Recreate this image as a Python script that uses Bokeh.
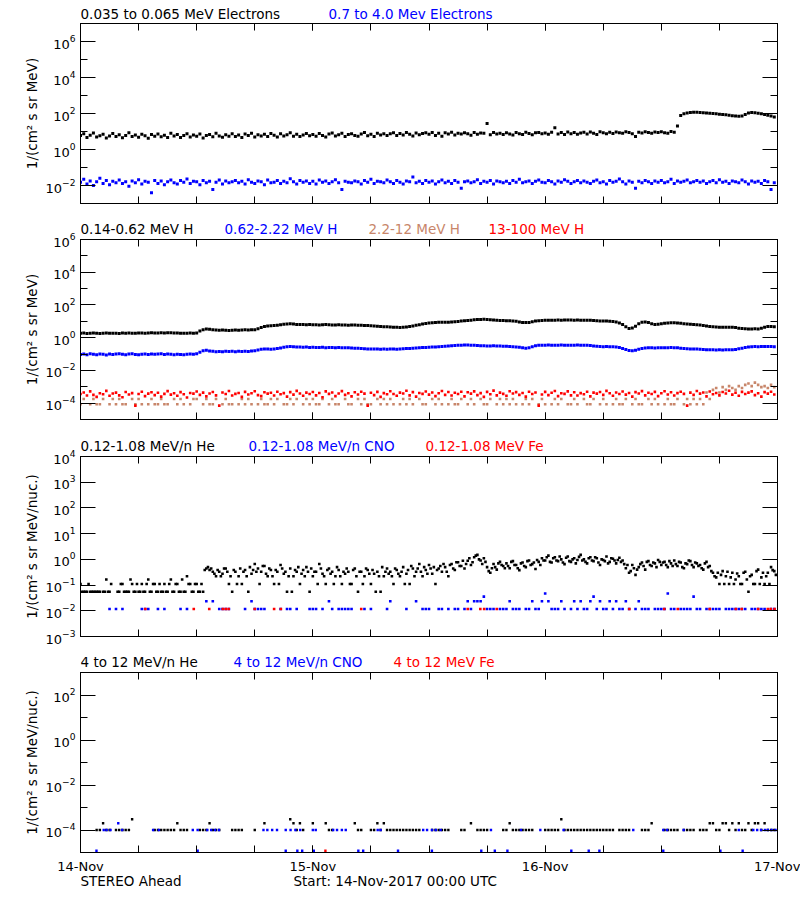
import numpy as np
import pandas as pd
from bokeh.plotting import figure
from bokeh.layouts import column
from bokeh.models import (Range1d, LogAxis, DatetimeAxis, FixedTicker,
                          DatetimeTickFormatter, CustomJSTickFormatter, ColumnDataSource)
from bokeh.core.properties import value
from bokeh.embed import file_html
from bokeh.resources import INLINE

NA = np.nan
START = pd.Timestamp("2017-11-14 00:00")
END = pd.Timestamp("2017-11-17 00:00")
CADENCE_MIN = 20

# ---------------- Panel 1: electrons (1/(cm2 s sr MeV)), 20-min samples ----------------
e_035_065 = [
    5.9, 7.4, 4.6, 6.1, 8.2, 5.0, 5.8, 7.0, 4.3, 5.7, 7.8, 5.2,
    6.6, 4.5, 5.9, 8.4, 5.3, 6.3, 4.8, 7.1, 5.8, 4.2, 6.8, 5.5,
    7.2, 5.1, 6.2, 4.6, 8.0, 5.6, 6.9, 4.7, 5.9, 7.6, 5.0, 6.4,
    5.4, 7.3, 4.4, 6.0, 6.8, 5.1, 7.9, 5.7, 4.8, 6.6, 5.5, 7.5,
    5.3, 6.4, 4.7, 7.2, 5.9, 8.1, 5.0, 6.7, 5.6, 7.0, 5.2, 7.7,
    6.1, 4.9, 7.4, 5.7, 6.6, 8.6, 5.5, 7.1, 5.2, 6.4, 7.8, 5.8,
    6.9, 5.4, 7.7, 6.0, 5.0, 7.2, 8.3, 5.6, 6.5, 7.9, 5.3, 6.8,
    7.6, 5.9, 5.4, 7.3, 8.7, 5.8, 7.0, 5.2, 8.1, 6.4, 7.5, 5.9,
    7.4, 8.5, 5.9, 7.8, 6.3, 8.9, 7.0, 5.6, 8.2, 6.6, 7.7, 8.6,
    7.1, 8.8, 6.0, 7.9, 5.4, 8.4, 7.3, 9.0, 6.4, 8.0, 7.2, 8.6,
    7.6, 6.2, 8.7, 7.0, 8.3, 7.9, 28.0, 6.5, 8.9, 7.3, 8.1, 6.8,
    8.4, 7.2, 6.4, 8.9, 7.5, 6.9, 9.2, 7.8, 6.6, 8.6, 8.8, 7.4,
    8.2, 7.0, 9.1, 16.0, 7.3, 8.7, 6.8, 9.3, 7.6, 8.9, 7.1, 8.3,
    9.0, 7.2, 9.4, 8.1, 6.9, 9.6, 8.4, 7.4, 9.1, 7.8, 9.5, 8.6,
    8.0, 9.7, 8.8, 7.5, 5.2, 9.2, 8.3, 9.8, 8.7, 7.9, 9.4, 8.9,
    9.8, 8.6, 8.0, 10.0, 9.1, 20.0, 78, 96, 108, 115, 118, 116,
    112, 110, 107, 104, 100, 96, 92, 88, 84, 80, 76, 72,
    70, 72, 88, 108, 115, 110, 104, 96, 88, 80, 72, 64,
]
e_07_40 = [
    .015, .022, .012, .018, .010, .016, .025, .013, .019, .011, .017, .014,
    .020, .013, .016, .009, .018, .014, .021, .012, .017, .015, .004, .019,
    .013, .018, .011, .016, .020, .014, .012, .019, .015, .023, .013, .017,
    .016, .011, .019, .014, .017, .006, .015, .020, .012, .018, .014, .016,
    .019, .014, .017, .012, .021, .015, .013, .018, .016, .011, .020, .014,
    .015, .019, .013, .017, .014, .024, .016, .012, .019, .015, .018, .013,
    .017, .012, .020, .015, .018, .013, .016, .021, .014, .006, .017, .015,
    .014, .018, .016, .012, .019, .015, .022, .013, .017, .016, .014, .020,
    .016, .013, .019, .015, .012, .018, .016, .030, .014, .017, .013, .019,
    .015, .018, .012, .016, .020, .014, .017, .013, .019, .015, .007, .016,
    .018, .014, .016, .021, .013, .017, .015, .019, .012, .018, .016, .014,
    .017, .013, .019, .015, .022, .014, .016, .018, .013, .017, .020, .015,
    .014, .019, .016, .012, .018, .015, .021, .017, .013, .016, .019, .014,
    .018, .015, .013, .017, .020, .014, .016, .012, .019, .015, .017, .023,
    .016, .012, .018, .015, .007, .017, .014, .019, .016, .013, .018, .015,
    .019, .014, .016, .022, .013, .018, .015, .017, .020, .014, .016, .019,
    .015, .018, .013, .016, .019, .014, .021, .015, .017, .013, .018, .016,
    .014, .020, .016, .012, .018, .015, .017, .013, .019, .016, .006, .014,
]

# ---------------- Panel 2: protons (1/(cm2 s sr MeV)), 20-min samples ----------------
h_014_062 = [
    1.85, 1.90, 1.82, 1.88, 1.92, 1.86, 1.80, 1.87, 1.91, 1.84, 1.89, 1.86,
    1.83, 1.90, 1.88, 1.94, 1.87, 1.85, 1.92, 1.96, 1.89, 1.93, 1.98, 1.91,
    1.95, 2.00, 1.93, 1.97, 2.02, 1.96, 1.90, 1.86, 1.84, 1.88, 1.92, 1.87,
    1.9, 2.6, 3.1, 3.4, 3.3, 3.1, 2.9, 2.8, 2.9, 2.8, 2.7, 2.8,
    2.9, 2.8, 2.9, 3.0, 2.9, 3.0, 3.1, 3.5, 4.2, 4.8, 5.2, 5.4,
    5.5, 5.8, 6.2, 6.6, 6.9, 7.0, 6.8, 6.5, 6.3, 6.4, 6.2, 6.3,
    6.1, 6.2, 6.0, 6.1, 6.3, 6.1, 5.9, 6.0, 6.1, 5.9, 6.0, 5.8,
    5.9, 6.0, 5.8, 5.7, 5.6, 5.5, 5.4, 5.2, 5.0, 4.9, 4.7, 4.6,
    4.5, 4.4, 4.3, 4.2, 4.3, 4.5, 4.8, 5.2, 5.7, 6.2, 6.8, 7.3,
    7.8, 8.2, 8.5, 8.7, 8.8, 8.7, 8.9, 9.2, 9.5, 9.8, 10.3, 10.8,
    11.3, 11.8, 12.3, 12.8, 13.1, 13.3, 12.8, 12.3, 12.0, 11.6, 11.3, 11.1,
    11.0, 10.8, 10.6, 10.0, 9.2, 8.6, 8.4, 8.6, 9.4, 10.3, 11.0, 11.4,
    11.6, 11.7, 11.8, 11.8, 11.9, 11.8, 11.9, 12.0, 11.9, 11.8, 11.9, 11.8,
    11.8, 11.7, 11.6, 11.4, 11.0, 10.6, 10.4, 10.5, 10.2, 9.8, 9.0, 7.8,
    6.5, 4.6, 3.7, 3.9, 5.0, 7.2, 8.8, 9.2, 8.4, 7.2, 6.5, 6.6,
    7.0, 7.6, 8.0, 8.3, 8.2, 7.9, 7.5, 7.1, 6.8, 6.6, 6.4, 6.2,
    6.0, 5.6, 5.2, 4.8, 4.6, 4.5, 4.4, 4.4, 4.4, 4.3, 4.3, 4.2,
    3.8, 3.6, 3.5, 3.4, 3.4, 3.5, 3.4, 3.8, 4.4, 4.9, 4.8, 4.6,
]
h_062_222 = [
    0.095, 0.100, 0.092, 0.105, 0.098, 0.090, 0.102, 0.096, 0.088, 0.100, 0.094, 0.099,
    0.103, 0.097, 0.091, 0.099, 0.106, 0.095, 0.089, 0.098, 0.102, 0.093, 0.100, 0.096,
    0.099, 0.104, 0.095, 0.101, 0.097, 0.092, 0.098, 0.094, 0.090, 0.096, 0.100, 0.097,
    0.105, 0.130, 0.160, 0.170, 0.155, 0.148, 0.140, 0.145, 0.138, 0.150, 0.142, 0.146,
    0.140, 0.148, 0.143, 0.150, 0.145, 0.152, 0.158, 0.175, 0.195, 0.205, 0.200, 0.198,
    0.205, 0.215, 0.235, 0.26, 0.28, 0.285, 0.275, 0.265, 0.27, 0.26, 0.265, 0.255,
    0.26, 0.25, 0.255, 0.26, 0.245, 0.25, 0.255, 0.245, 0.25, 0.24, 0.245, 0.24,
    0.235, 0.23, 0.225, 0.22, 0.21, 0.205, 0.20, 0.205, 0.20, 0.195, 0.20, 0.198,
    0.20, 0.205, 0.198, 0.20, 0.21, 0.215, 0.22, 0.23, 0.235, 0.245, 0.25, 0.255,
    0.26, 0.265, 0.27, 0.28, 0.29, 0.30, 0.31, 0.32, 0.33, 0.34, 0.35, 0.355,
    0.36, 0.35, 0.34, 0.33, 0.32, 0.325, 0.315, 0.31, 0.32, 0.315, 0.31, 0.30,
    0.30, 0.29, 0.28, 0.27, 0.26, 0.24, 0.23, 0.245, 0.28, 0.32, 0.34, 0.35,
    0.35, 0.355, 0.35, 0.345, 0.35, 0.355, 0.35, 0.345, 0.35, 0.35, 0.355, 0.345,
    0.35, 0.34, 0.33, 0.31, 0.30, 0.29, 0.28, 0.285, 0.28, 0.275, 0.27, 0.255,
    0.22, 0.19, 0.165, 0.16, 0.17, 0.195, 0.22, 0.235, 0.24, 0.24, 0.235, 0.24,
    0.245, 0.24, 0.245, 0.25, 0.245, 0.24, 0.23, 0.22, 0.21, 0.205, 0.20, 0.20,
    0.195, 0.19, 0.185, 0.18, 0.18, 0.175, 0.18, 0.175, 0.18, 0.185, 0.18, 0.19,
    0.21, 0.23, 0.25, 0.27, 0.28, 0.285, 0.28, 0.29, 0.285, 0.29, 0.285, 0.28,
]
h_22_12 = [
    8.5e-5, 1.8e-4, NA, 8.5e-5, 1.8e-4, 8.5e-5, 8.5e-5, 1.8e-4, NA, 8.5e-5, 1.8e-4, 8.5e-5,
    1.8e-4, 8.5e-5, 8.5e-5, NA, 1.8e-4, 8.5e-5, 1.8e-4, 8.5e-5, NA, 8.5e-5, 1.8e-4, 8.5e-5,
    8.5e-5, 1.8e-4, 8.5e-5, 8.5e-5, NA, 1.8e-4, 8.5e-5, 1.8e-4, 8.5e-5, NA, 8.5e-5, 1.8e-4,
    1.8e-4, NA, 8.5e-5, 1.8e-4, 8.5e-5, 8.5e-5, 1.8e-4, NA, 8.5e-5, 1.8e-4, 8.5e-5, 8.5e-5,
    NA, 8.5e-5, 1.8e-4, 8.5e-5, 1.8e-4, 8.5e-5, NA, 8.5e-5, 1.8e-4, 8.5e-5, 8.5e-5, 1.8e-4,
    8.5e-5, 1.8e-4, NA, 8.5e-5, 8.5e-5, 1.8e-4, 8.5e-5, 1.8e-4, NA, 8.5e-5, 1.8e-4, 8.5e-5,
    1.8e-4, 8.5e-5, 8.5e-5, 1.8e-4, NA, 8.5e-5, 1.8e-4, 8.5e-5, 8.5e-5, NA, 1.8e-4, 8.5e-5,
    8.5e-5, NA, 1.8e-4, 8.5e-5, 1.8e-4, 8.5e-5, 8.5e-5, NA, 1.8e-4, 8.5e-5, 1.8e-4, 8.5e-5,
    1.8e-4, 8.5e-5, NA, 8.5e-5, 1.8e-4, 8.5e-5, 1.8e-4, 8.5e-5, NA, 1.8e-4, 8.5e-5, 8.5e-5,
    NA, 1.8e-4, 8.5e-5, 1.8e-4, 8.5e-5, NA, 8.5e-5, 1.8e-4, 8.5e-5, 8.5e-5, 1.8e-4, NA,
    8.5e-5, 1.8e-4, 8.5e-5, NA, 1.8e-4, 8.5e-5, 8.5e-5, 1.8e-4, NA, 8.5e-5, 1.8e-4, 8.5e-5,
    1.8e-4, 8.5e-5, 1.8e-4, 8.5e-5, NA, 8.5e-5, 1.8e-4, 8.5e-5, 1.8e-4, NA, 8.5e-5, 1.8e-4,
    8.5e-5, NA, 8.5e-5, 1.8e-4, 8.5e-5, 1.8e-4, NA, 8.5e-5, 8.5e-5, 1.8e-4, 8.5e-5, NA,
    1.8e-4, 8.5e-5, 8.5e-5, 1.8e-4, NA, 8.5e-5, 1.8e-4, 8.5e-5, NA, 8.5e-5, 1.8e-4, 8.5e-5,
    8.5e-5, 1.8e-4, NA, 8.5e-5, 1.8e-4, 8.5e-5, 8.5e-5, NA, 1.8e-4, 8.5e-5, 1.8e-4, 8.5e-5,
    NA, 8.5e-5, 1.8e-4, 8.5e-5, 8.5e-5, 1.8e-4, NA, 8.5e-5, 1.8e-4, 8.5e-5, 1.8e-4, 8.5e-5,
    1.8e-4, 8.5e-5, 4.5e-4, 1.8e-4, 6.5e-4, 8.5e-4, 4.5e-4, 9.5e-4, 6.5e-4, 1.1e-3, 8.5e-4, 6.5e-4,
    1.1e-3, 8.5e-4, 1.3e-3, 1.6e-3, 1.1e-3, 1.8e-3, 1.3e-3, 9.5e-4, 1.1e-3, 8.5e-4, 1.3e-3, 9.5e-4,
]
h_13_100 = [
    3.6e-4, 4.5e-4, 2.9e-4, 5.2e-4, 3.2e-4, 2.4e-4, 4.0e-4, 3.5e-4, 5.6e-4, 2.8e-4, 3.9e-4, 4.4e-4,
    3.0e-4, 2.3e-4, 4.8e-4, 3.4e-4, 4.1e-4, 0.7e-4, 3.6e-4, 5.0e-4, 2.7e-4, 3.8e-4, 4.6e-4, 3.1e-4,
    4.3e-4, 2.5e-4, 3.7e-4, 5.4e-4, 3.3e-4, 4.0e-4, 2.8e-4, 4.7e-4, 3.5e-4, 2.2e-4, 4.2e-4, 3.8e-4,
    5.1e-4, 3.2e-4, 4.4e-4, 2.6e-4, 3.9e-4, 4.8e-4, 3.0e-4, 0.7e-4, 4.5e-4, 3.6e-4, 5.5e-4, 2.9e-4,
    3.7e-4, 4.2e-4, 2.4e-4, 4.9e-4, 3.4e-4, 4.0e-4, 5.3e-4, 3.1e-4, 2.7e-4, 4.6e-4, 3.8e-4, 4.3e-4,
    2.9e-4, 5.0e-4, 3.5e-4, 4.1e-4, 2.5e-4, 4.7e-4, 3.3e-4, 5.6e-4, 3.9e-4, 2.8e-4, 4.4e-4, 3.6e-4,
    4.8e-4, 3.0e-4, 4.2e-4, 2.3e-4, 5.2e-4, 3.7e-4, 4.5e-4, 2.7e-4, 3.9e-4, 5.4e-4, 3.2e-4, 4.0e-4,
    2.6e-4, 4.6e-4, 3.4e-4, 5.0e-4, 3.8e-4, 0.7e-4, 4.3e-4, 3.1e-4, 4.9e-4, 2.4e-4, 4.1e-4, 3.5e-4,
    5.3e-4, 3.6e-4, 2.8e-4, 4.4e-4, 3.9e-4, 5.7e-4, 3.0e-4, 4.7e-4, 2.5e-4, 4.2e-4, 3.7e-4, 5.1e-4,
    3.3e-4, 4.5e-4, 2.7e-4, 4.0e-4, 5.5e-4, 3.2e-4, 4.8e-4, 2.9e-4, 4.3e-4, 3.6e-4, 5.0e-4, 2.6e-4,
    4.6e-4, 3.8e-4, 5.2e-4, 3.1e-4, 4.1e-4, 2.4e-4, 4.9e-4, 3.5e-4, 5.8e-4, 3.0e-4, 4.4e-4, 3.7e-4,
    2.8e-4, 5.3e-4, 3.9e-4, 4.7e-4, 3.2e-4, 4.2e-4, 2.5e-4, 5.0e-4, 3.6e-4, 4.5e-4, 0.7e-4, 3.4e-4,
    4.9e-4, 3.1e-4, 4.3e-4, 5.5e-4, 2.7e-4, 4.0e-4, 3.7e-4, 5.2e-4, 3.0e-4, 4.6e-4, 2.9e-4, 4.1e-4,
    3.5e-4, 5.0e-4, 2.6e-4, 4.4e-4, 3.8e-4, 4.8e-4, 3.2e-4, 5.6e-4, 4.0e-4, 2.8e-4, 4.5e-4, 3.6e-4,
    5.1e-4, 3.3e-4, 4.2e-4, 2.5e-4, 4.7e-4, 3.9e-4, 5.4e-4, 3.0e-4, 4.3e-4, 3.6e-4, 4.9e-4, 2.7e-4,
    4.0e-4, 5.3e-4, 3.4e-4, 4.6e-4, 2.9e-4, 4.1e-4, 5.0e-4, 3.7e-4, 0.7e-4, 4.4e-4, 3.2e-4, 5.5e-4,
    3.8e-4, 4.5e-4, 2.6e-4, 5.1e-4, 3.5e-4, 4.2e-4, 3.0e-4, 4.8e-4, 3.9e-4, 5.7e-4, 3.3e-4, 4.3e-4,
    2.8e-4, 4.9e-4, 3.6e-4, 4.4e-4, 5.2e-4, 3.1e-4, 4.0e-4, 2.5e-4, 4.7e-4, 3.8e-4, 5.0e-4, 3.4e-4,
]

# ---------------- Panel 3: 0.12-1.08 MeV/n ions (1/(cm2 s sr MeV/nuc.)) ----------------
# He: samples on the 20-min grid (a) and 10 minutes later (b)
he_012_108_a = [
    0.11, 0.055, 0.055, 0.055, 0.055, 0.055, 0.055, 0.055, 0.165, 0.055, NA, NA,
    0.055, 0.11, 0.055, 0.055, 0.11, 0.055, 0.055, 0.11, 0.055, 0.165, 0.055, 0.11,
    0.055, 0.055, 0.11, 0.055, 0.165, 0.055, 0.11, 0.055, 0.055, 0.22, 0.11, 0.055,
    0.11, 0.055, 0.055, 0.44, 0.385, 0.33, 0.22, 0.33, 0.275, 0.44, 0.11, 0.055,
    0.33, 0.22, 0.11, 0.385, 0.055, 0.275, 0.66, 0.44, 0.33, 0.55, 0.22, 0.385,
    0.11, 0.33, 0.6, 0.275, 0.055, 0.44, 0.22, 0.33, 0.11, 0.385, 0.5, 0.055,
    0.22, 0.33, 0.66, 0.275, 0.11, 0.44, 0.33, 0.22, 0.385, 0.11, 0.275, 0.33,
    0.11, 0.44, 0.055, 0.33, 0.22, 0.385, 0.11, 0.275, 0.33, 0.055, 0.22, 0.44,
    0.33, 0.11, 0.385, 0.22, 0.5, 0.275, 0.11, 0.44, 0.33, 0.66, 0.22, 0.385,
    0.6, 0.275, 0.11, 0.44, 0.33, 0.5, 0.22, 0.66, 0.385, 0.77, 0.55, 0.44,
    0.88, 0.6, 1.2, 1.5, 0.9, 1.1, 0.5, 0.3, 0.66, 0.4, 0.8, 0.55,
    0.7, 0.45, 0.85, 0.6, 0.38, 0.75, 0.5, 0.9, 0.65, 0.42, 0.8, 1.1,
    0.9, 1.4, 0.75, 1.2, 0.85, 1.0, 0.65, 1.3, 0.8, 1.1, 0.95, 1.5,
    1.0, 0.7, 1.2, 0.85, 1.1, 0.6, 0.95, 1.3, 0.8, 1.05, 0.7, 1.15,
    0.9, 0.45, 0.3, 0.6, 0.25, 0.5, 0.75, 0.4, 0.85, 0.55, 0.7, 0.95,
    0.6, 0.8, 0.5, 0.7, 0.9, 0.55, 0.75, 0.45, 0.65, 0.85, 0.5, 0.7,
    0.6, 0.4, 0.8, 0.55, 0.3, 0.2, 0.11, 0.35, 0.22, 0.11, 0.3, 0.165,
    0.22, 0.11, 0.33, 0.055, 0.25, 0.11, 0.4, 0.2, 0.11, 0.3, 0.5, 0.35,
]
he_012_108_b = [
    0.055, 0.055, 0.11, 0.055, 0.055, 0.055, NA, 0.055, 0.055, 0.11, NA, 0.055,
    0.11, 0.055, 0.055, 0.165, 0.055, 0.11, 0.055, 0.055, 0.11, 0.055, 0.11, 0.055,
    0.11, 0.055, 0.055, 0.11, 0.055, 0.11, 0.055, 0.165, 0.055, 0.11, 0.055, 0.11,
    0.055, 0.11, 0.385, 0.5, 0.44, 0.275, 0.385, 0.22, 0.44, 0.33, 0.22, 0.385,
    0.11, 0.44, 0.33, 0.22, 0.5, 0.385, 0.33, 0.11, 0.55, 0.275, 0.44, 0.22,
    0.385, 0.11, 0.44, 0.33, 0.22, 0.055, 0.385, 0.5, 0.275, 0.22, 0.33, 0.44,
    0.33, 0.11, 0.44, 0.22, 0.385, 0.275, 0.11, 0.5, 0.22, 0.33, 0.44, 0.11,
    0.385, 0.22, 0.33, 0.11, 0.44, 0.275, 0.385, 0.055, 0.22, 0.5, 0.33, 0.275,
    0.22, 0.44, 0.275, 0.33, 0.11, 0.385, 0.55, 0.22, 0.44, 0.33, 0.5, 0.275,
    0.44, 0.5, 0.385, 0.55, 0.66, 0.33, 0.6, 0.44, 0.77, 0.55, 0.88, 0.66,
    1.1, 0.77, 1.4, 1.0, 0.66, 0.8, 0.35, 0.45, 0.5, 0.7, 0.6, 0.45,
    0.55, 0.8, 0.6, 0.45, 0.7, 0.55, 0.85, 0.6, 0.75, 0.95, 0.6, 0.9,
    1.2, 0.8, 1.1, 0.9, 1.3, 0.75, 1.15, 0.85, 1.0, 0.7, 1.25, 0.9,
    0.8, 1.1, 0.9, 1.2, 0.75, 1.0, 0.85, 0.7, 1.1, 0.9, 0.95, 0.8,
    0.65, 0.6, 0.35, 0.45, 0.4, 0.65, 0.55, 0.8, 0.6, 0.75, 0.5, 0.8,
    0.75, 0.6, 0.85, 0.55, 0.65, 0.8, 0.5, 0.7, 0.9, 0.6, 0.75, 0.55,
    0.45, 0.7, 0.5, 0.35, 0.22, 0.3, 0.25, 0.11, 0.33, 0.2, 0.11, 0.28,
    0.11, 0.3, 0.165, 0.22, 0.11, 0.35, 0.11, 0.3, 0.22, 0.11, 0.38, 0.25,
]
# CNO: counts per 20-min sample (0 = nothing plotted), one count = 0.0118
cno_012_108_counts = [
    0, 0, 0, 0, 0, 0, 0, 0, 0, 1, 0, 1,
    0, 1, 0, 0, 0, 0, 0, 1, 1, 1, 0, 0,
    1, 0, 1, 0, 0, 0, 0, 1, 0, 1, 0, 0,
    0, 0, 0, 2, 0, 2, 0, 1, 1, 1, 1, 0,
    0, 0, 0, 1, 0, 2, 1, 1, 1, 1, 0, 0,
    0, 0, 1, 0, 1, 1, 0, 1, 0, 0, 0, 1,
    1, 1, 0, 1, 0, 2, 1, 0, 1, 1, 1, 1,
    1, 0, 0, 0, 1, 0, 1, 0, 0, 0, 0, 1,
    2, 0, 0, 0, 0, 1, 0, 0, 2, 0, 1, 1,
    1, 0, 0, 1, 1, 0, 1, 0, 1, 1, 0, 1,
    2, 1, 2, 2, 2, 3, 1, 1, 1, 0, 1, 1,
    1, 2, 1, 1, 1, 0, 1, 1, 2, 1, 1, 2,
    4, 2, 1, 1, 1, 2, 1, 0, 1, 2, 1, 2,
    1, 1, 2, 3, 1, 2, 1, 1, 2, 1, 2, 1,
    1, 2, 1, 0, 1, 2, 1, 1, 1, 0, 1, 1,
    1, 1, 4, 1, 1, 0, 1, 1, 1, 1, 3, 1,
    1, 0, 1, 1, 1, 1, 1, 0, 1, 1, 1, 1,
    1, 1, 1, 0, 1, 1, 1, 1, 1, 0, 1, 1,
]
CNO3_PER_COUNT = 0.0118
fe_012_108_hours = [6.7, 11.7, 13.3, 14.7, 15.0, 15.3, 18.0, 20.0, 20.7, 29.0, 40.0, 41.3,
                    41.7, 43.0, 56.7, 60.3, 61.7, 65.0, 67.7, 68.3, 70.0, 71.0, 71.3, 71.7]
fe_012_108_vals = [0.0118] * len(fe_012_108_hours)

# ---------------- Panel 4: 4-12 MeV/n ions ----------------
he_4_12_counts = [
    0, 0, 0, 0, 0, 1, 1, 2, 1, 1, 0, 1,
    1, 1, 1, 1, 3, 0, 0, 0, 0, 0, 0, 1,
    1, 1, 1, 1, 1, 1, 2, 1, 1, 1, 0, 0,
    0, 1, 1, 1, 2, 1, 1, 1, 0, 0, 0, 1,
    1, 1, 1, 0, 0, 0, 1, 0, 0, 2, 0, 0,
    0, 0, 0, 0, 0, 3, 2, 1, 2, 1, 0, 0,
    2, 0, 0, 0, 2, 1, 1, 0, 0, 0, 0, 0,
    0, 2, 1, 1, 0, 0, 1, 1, 2, 1, 2, 1,
    1, 1, 1, 1, 1, 1, 1, 1, 1, 1, 0, 0,
    0, 1, 1, 1, 1, 1, 1, 0, 0, 0, 1, 1,
    0, 2, 0, 1, 1, 1, 1, 0, 0, 0, 0, 1,
    1, 2, 1, 1, 1, 1, 1, 1, 1, 0, 0, 0,
    1, 1, 1, 1, 1, 3, 1, 1, 1, 1, 1, 1,
    1, 1, 1, 1, 1, 1, 1, 1, 1, 1, 0, 1,
    1, 1, 1, 0, 0, 0, 1, 1, 1, 2, 0, 0,
    0, 1, 1, 1, 1, 1, 0, 1, 1, 1, 1, 0,
    1, 1, 1, 2, 2, 1, 1, 2, 2, 1, 2, 1,
    2, 1, 1, 2, 1, 2, 2, 1, 2, 1, 1, 1,
]
HE4_PER_COUNT = 1.0e-4
cno_4_12_hours = [2.4, 2.7, 3.1, 3.9, 4.3, 7.5, 8.1, 11.6, 12.1, 13.1, 13.5, 13.9, 14.3,
                  18.9, 19.3, 19.8, 20.3, 21.2, 21.7, 22.2, 22.7, 24.0, 24.3, 26.1, 26.5,
                  27.0, 27.4, 30.7, 31.0, 35.4, 35.8, 36.3, 36.7, 37.2, 42.4, 45.5, 47.5,
                  49.9, 57.1, 60.2, 60.6, 62.3, 68.0, 69.5, 69.9, 70.3, 70.7, 71.0, 71.4, 71.8,
                  1.65, 12.1, 21.2, 22.4, 22.9, 24.1, 28.7, 29.2, 32.8, 36.3, 41.4, 42.8,
                  44.1, 50.7, 52.5, 53.6, 60.2, 66.1, 68.4]
cno_4_12_vals = [1e-4, 1e-4, 1e-4, 2e-4, 1e-4, 1e-4, 1e-4, 1e-4, 1e-4, 1e-4, 1e-4, 1e-4, 1e-4,
                 1e-4, 1e-4, 1e-4, 1e-4, 1e-4, 1e-4, 1e-4, 1e-4, 1e-4, 1e-4, 1e-4, 1e-4,
                 1e-4, 1e-4, 1e-4, 1e-4, 1e-4, 1e-4, 1e-4, 1e-4, 1e-4, 1e-4, 1e-4, 1e-4,
                 1e-4, 1e-4, 1e-4, 1e-4, 1e-4, 1e-4, 1e-4, 1e-4, 1e-4, 1e-4, 1e-4, 1e-4, 1e-4,
                 1.2e-5, 1.2e-5, 1.2e-5, 1.2e-5, 1.2e-5, 1.2e-5, 1.2e-5, 1.2e-5, 1.2e-5, 1.2e-5,
                 1.2e-5, 1.2e-5, 1.2e-5, 1.2e-5, 1.2e-5, 1.2e-5, 1.2e-5, 1.2e-5, 1.2e-5]
fe_4_12_hours = [25.3]
fe_4_12_vals = [1.2e-5]

# ---------------- texts ----------------
titles_1 = ["0.035 to 0.065 MeV Electrons", "0.7 to 4.0 Mev Electrons"]
titles_2 = ["0.14-0.62 MeV H", "0.62-2.22 MeV H", "2.2-12 MeV H", "13-100 MeV H"]
titles_3 = ["0.12-1.08 MeV/n He", "0.12-1.08 MeV/n CNO", "0.12-1.08 MeV Fe"]
titles_4 = ["4 to 12 MeV/n He", "4 to 12 MeV/n CNO", "4 to 12 MeV Fe"]
footer = ["STEREO Ahead", "Start: 14-Nov-2017 00:00 UTC"]
YL1 = "1/(cm\u00b2 s sr MeV)"
YL2 = "1/(cm\u00b2 s sr MeV/nuc.)"

BLACK, BLUE, RED, BROWN = "#000000", "#0000ff", "#ff0000", "#c8866a"
FONT = "DejaVu Sans"
TXT = "13.5px"
TICK = "13px"
W = 800
FRAME_L, FRAME_R = 80, 777
PAD = 12           # panel border above / below its frame (overlaps the text strips)
BLANK = CustomJSTickFormatter(code="return ''")


def sample_times(vals, offset_min=0):
    n = len(vals)
    return (START + pd.to_timedelta(np.arange(n) * CADENCE_MIN + offset_min, unit="min")).to_numpy()


def hour_times(hours):
    return (START + pd.to_timedelta(np.array(hours, dtype=float), unit="h")).to_numpy()


def from_counts(counts, per):
    c = np.array(counts, dtype=float)
    return np.where(c > 0, c * per, np.nan)


def ms(ts):
    return ts.value / 1e6


DAY_TICKS = [ms(START + pd.Timedelta(days=d)) for d in range(4)]
SIX_H_TICKS = [ms(START + pd.Timedelta(hours=6 * k)) for k in range(13)]


def style_ticks(ax, major_in, minor_in):
    ax.major_tick_in = major_in
    ax.major_tick_out = 0
    ax.minor_tick_in = minor_in
    ax.minor_tick_out = 0
    ax.axis_line_color = "black"
    ax.major_tick_line_color = "black"
    ax.minor_tick_line_color = "black"


def hide_labels(ax):
    ax.formatter = BLANK
    ax.major_label_text_font_size = "1px"
    ax.major_label_standoff = 0


def text_strip(height, texts, xs, colors, mid_from_bottom, top_margin=0):
    s = figure(width=W, height=height, x_range=Range1d(FRAME_L, FRAME_R), y_range=Range1d(0, height),
               x_axis_location=None, y_axis_location=None,
               output_backend="svg", toolbar_location=None,
               min_border_left=FRAME_L, min_border_right=W - FRAME_R,
               min_border_top=0, min_border_bottom=0, margin=(top_margin, 0, 0, 0))
    s.grid.visible = False
    s.outline_line_color = None
    s.background_fill_color = None
    s.border_fill_color = None
    src = ColumnDataSource(dict(x=xs, y=[mid_from_bottom] * len(texts), text=texts, color=colors))
    s.text(x="x", y="y", text="text", text_color="color", source=src,
           text_font=value(FONT), text_font_size=value(TXT),
           text_baseline="middle", text_align="left")
    return s


def panel(border_bottom, ylo, yhi, majors, minors, ylabel, show_x):
    p = figure(width=W, height=PAD + 180 + border_bottom, x_axis_type="datetime", y_axis_type="log",
               x_range=Range1d(START, END), y_range=Range1d(ylo, yhi),
               output_backend="svg", toolbar_location=None,
               min_border_left=FRAME_L, min_border_right=W - FRAME_R, min_border_top=PAD,
               min_border_bottom=border_bottom, margin=(-PAD, 0, 0, 0))
    p.outline_line_color = "black"
    p.outline_line_alpha = 1.0
    p.grid.visible = False
    p.background_fill_color = None
    p.border_fill_color = None

    yt = FixedTicker(ticks=majors, minor_ticks=minors)
    xt = FixedTicker(ticks=DAY_TICKS, minor_ticks=SIX_H_TICKS)

    ya = p.yaxis[0]
    ya.ticker = yt
    style_ticks(ya, 15, 7)
    ya.major_label_text_font = FONT
    ya.major_label_text_font_size = TICK
    ya.major_label_text_color = "black"
    ya.major_label_standoff = 5
    ya.axis_label = ylabel
    ya.axis_label_text_font = FONT
    ya.axis_label_text_font_size = TXT
    ya.axis_label_text_font_style = "normal"
    ya.axis_label_text_color = "black"
    ya.axis_label_standoff = 3

    ra = LogAxis(ticker=yt)
    style_ticks(ra, 15, 7)
    hide_labels(ra)
    p.add_layout(ra, "right")

    xa = p.xaxis[0]
    xa.ticker = xt
    style_ticks(xa, 7, 7)
    if show_x:
        xa.formatter = DatetimeTickFormatter(hours="%d-%b", days="%d-%b", months="%d-%b", years="%d-%b")
        xa.major_label_text_font = FONT
        xa.major_label_text_font_size = TICK
        xa.major_label_text_color = "black"
        xa.major_label_standoff = 6
    else:
        hide_labels(xa)

    ta = DatetimeAxis(ticker=xt)
    style_ticks(ta, 7, 7)
    hide_labels(ta)
    p.add_layout(ta, "above")
    return p


def dots(p, x, y, color, size=2.6):
    p.scatter(x=x, y=y, marker="square", size=size, fill_color=color, line_color=None)


# page rows: strip 0-23 | panel frame 23-203 | strip 215-239 | frame 239-419 | strip 431-456 |
# frame 456-636 | strip 648-672 | frame 672-852 | footer 870-896
s1 = text_strip(23, titles_1, [80, 328], [BLACK, BLUE], 23 - 13.3)
p1 = panel(PAD, 1e-3, 1e7, [1e-2, 1, 1e2, 1e4, 1e6], [1e-1, 1e1, 1e3, 1e5], YL1, False)
dots(p1, sample_times(e_035_065), e_035_065, BLACK, 3)
dots(p1, sample_times(e_07_40), e_07_40, BLUE, 3)

s2 = text_strip(24, titles_2, [80, 224, 368, 488], [BLACK, BLUE, BROWN, RED], 24 - 13.3)
p2 = panel(PAD, 1e-5, 1e6, [1e-4, 1e-2, 1, 1e2, 1e4, 1e6], [1e-3, 1e-1, 1e1, 1e3, 1e5], YL1, False)
dots(p2, sample_times(h_014_062), h_014_062, BLACK, 3)
dots(p2, sample_times(h_062_222), h_062_222, BLUE, 3)
dots(p2, sample_times(h_22_12), h_22_12, BROWN)
dots(p2, sample_times(h_13_100), h_13_100, RED)

s3 = text_strip(25, titles_3, [80, 248, 425], [BLACK, BLUE, RED], 25 - 14.8)
p3 = panel(PAD, 1e-3, 1e4, [1e-3, 1e-2, 1e-1, 1, 1e1, 1e2, 1e3, 1e4], [], YL2, False)
dots(p3, sample_times(he_012_108_a), he_012_108_a, BLACK)
dots(p3, sample_times(he_012_108_b, 10), he_012_108_b, BLACK)
cno3 = from_counts(cno_012_108_counts, CNO3_PER_COUNT)
dots(p3, sample_times(cno3), cno3, BLUE)
dots(p3, hour_times(fe_012_108_hours), fe_012_108_vals, RED)

s4 = text_strip(24, titles_4, [80, 233, 393], [BLACK, BLUE, RED], 24 - 13.3)
p4 = panel(30, 1e-5, 1e3, [1e-4, 1e-2, 1, 1e2], [1e-3, 1e-1, 1e1], YL2, True)
he4 = from_counts(he_4_12_counts, HE4_PER_COUNT)
dots(p4, sample_times(he4), he4, BLACK, 2.4)
dots(p4, hour_times(cno_4_12_hours), cno_4_12_vals, BLUE, 2.4)
dots(p4, hour_times(fe_4_12_hours), fe_4_12_vals, RED, 2.4)

s5 = text_strip(26, footer, [80, 293], [BLACK, BLACK], 26 - 10.5, top_margin=-12)

layout = column(s1, p1, s2, p2, s3, p3, s4, p4, s5, spacing=0)
open("out.html", "w").write(file_html(layout, INLINE))
